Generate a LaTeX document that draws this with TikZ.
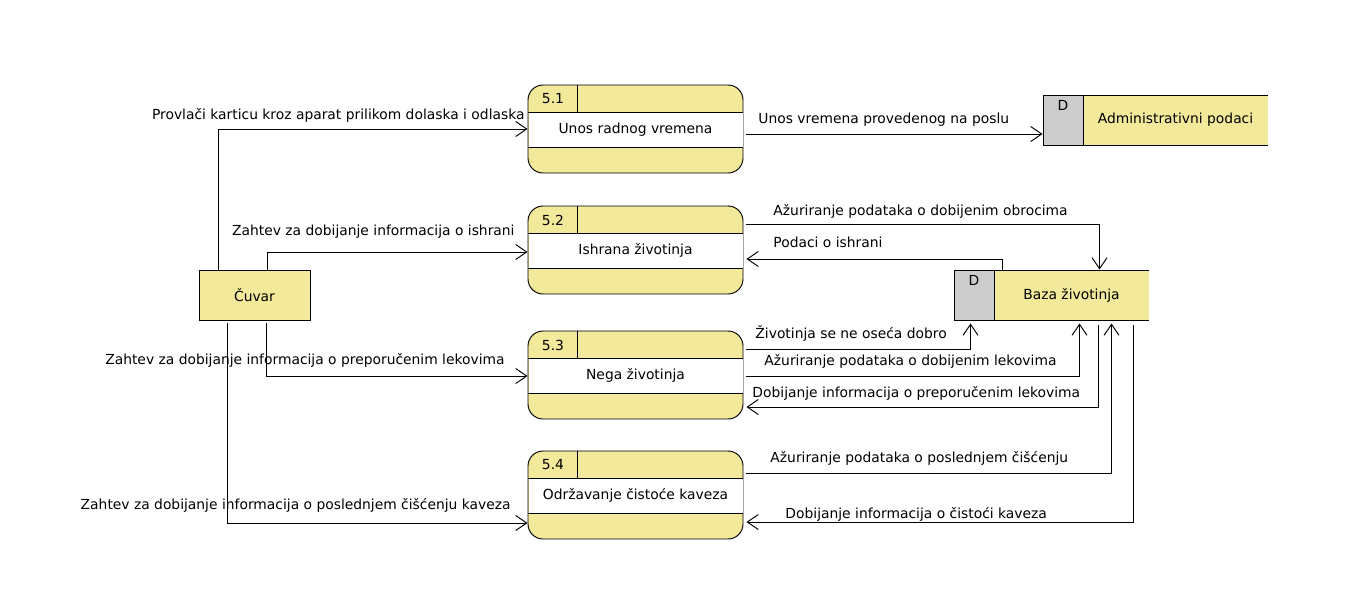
\documentclass[tikz,border=0pt]{standalone}
\usepackage{fontspec}
\setmainfont{DejaVu Sans}
\usetikzlibrary{arrows.meta,calc}
\definecolor{ylw}{RGB}{243,233,155}
\definecolor{gry}{RGB}{204,204,204}
\tikzset{
  procshape/.style={draw, fill=ylw, rounded corners=15pt, minimum width=215pt, minimum height=88pt, inner sep=0pt},
  entshape/.style={draw, fill=ylw, minimum width=111pt, minimum height=50pt, inner sep=0pt},
  storeshape/.style={minimum height=50pt, inner sep=0pt},
  flow/.style={-{Straight Barb[length=11pt,width=15pt]}},
  lbl/.style={inner sep=0pt, anchor=base west},
  lblr/.style={inner sep=0pt, anchor=base east},
}
\newcommand\procbox[5]{% name, left, top, number, text
  \node[procshape] (#1) at (#2+107.5,#3+44) {};
  \fill[white] (#2+0.5,#3+27) rectangle (#2+214.5,#3+62);
  \draw (#2,#3+27) -- (#2+215,#3+27) (#2,#3+62) -- (#2+215,#3+62) (#2+49,#3) -- (#2+49,#3+27);
  \node[inner sep=0pt] (#1-n) at (#2+25,#3+14) {#4};
  \node[inner sep=0pt] (#1-t) at (#2+107.5,#3+44.5) {#5};
}
\newcommand\dstore[5]{% name, left, top, width, text
  \fill[ylw] (#2,#3) rectangle (#2+#4,#3+50);
  \fill[gry] (#2,#3) rectangle (#2+40,#3+50);
  \draw (#2+#4,#3) -- (#2,#3) -- (#2,#3+50) -- (#2+#4,#3+50) (#2+40,#3) -- (#2+40,#3+50);
  \node[storeshape, minimum width=#4] (#1) at (#2+#4/2,#3+25) {};
  \node[inner sep=0pt] (#1-d) at (#2+20,#3+10) {D};
  \node[inner sep=0pt] (#1-t) at (#2+40+#4/2-20,#3+25) {#5};
}
\begin{document}
\begin{tikzpicture}[x=1pt, y=-1pt, line width=0.95pt, font=\fontsize{13.85}{16}\selectfont]
\useasboundingbox (0,0) rectangle (1370,603);

\procbox{p1}{528}{85}{5.1}{Unos radnog vremena}
\procbox{p2}{528}{206}{5.2}{Ishrana životinja}
\procbox{p3}{528}{331}{5.3}{Nega životinja}
\procbox{p4}{528}{451}{5.4}{Održavanje čistoće kaveza}

\dstore{adm}{1043}{95}{225}{Administrativni podaci}
\dstore{baza}{954}{270}{195}{Baza životinja}

\node[entshape] (cuvar) at (254.5,295) {Čuvar};

% Čuvar -> processes
\draw[flow] ($(cuvar.north west)+(20,0)$) |- (p1.west);
\draw[flow] ($(cuvar.north west)+(69,0)$) |- ($(p2.west)+(0,2)$);
\draw[flow] ($(cuvar.south west)+(68,3)$) |- ($(p3.west)+(0,1)$);
\draw[flow] ($(cuvar.south west)+(29,3)$) |- ($(p4.west)+(0,28)$);

% processes <-> stores
\draw[flow] ($(p1.east)+(3,5)$) -- ($(adm.west)+(0,14)$);
\draw[flow] ($(p2.east)+(3,-26)$) -| ($(baza.north west)+(146,0)$);
\draw[flow] ($(baza.north west)+(49,0)$) |- ($(p2.east)+(3,9)$);
\draw[flow] ($(p3.east)+(3,-26)$) -| ($(baza.south west)+(17,3)$);
\draw[flow] ($(p3.east)+(3,1)$) -| ($(baza.south west)+(126,3)$);
\draw[flow] ($(baza.south west)+(145,5)$) |- ($(p3.east)+(3,32)$);
\draw[flow] ($(p4.east)+(3,-22)$) -| ($(baza.south west)+(158,3)$);
\draw[flow] ($(baza.south west)+(180,5)$) |- ($(p4.east)+(3,27)$);

% labels
\node[lblr] (l1) at (525,119) {Provlači karticu kroz aparat prilikom dolaska i odlaska};
\node[lblr] (l2) at (515,235) {Zahtev za dobijanje informacija o ishrani};
\node[lblr] (l3) at (505,364) {Zahtev za dobijanje informacija o preporučenim lekovima};
\node[lblr] (l4) at (511,509) {Zahtev za dobijanje informacija o poslednjem čišćenju kaveza};
\node[lbl] (l5) at (758,123) {Unos vremena provedenog na poslu};
\node[lbl] (l6) at (773,215) {Ažuriranje podataka o dobijenim obrocima};
\node[lbl] (l7) at (773,247) {Podaci o ishrani};
\node[lbl] (l8) at (755,338) {Životinja se ne oseća dobro};
\node[lbl] (l9) at (764,365) {Ažuriranje podataka o dobijenim lekovima};
\node[lbl] (l10) at (752,397) {Dobijanje informacija o preporučenim lekovima};
\node[lbl] (l11) at (770,462) {Ažuriranje podataka o poslednjem čišćenju};
\node[lbl] (l12) at (785,518) {Dobijanje informacija o čistoći kaveza};
\end{tikzpicture}
\end{document}
